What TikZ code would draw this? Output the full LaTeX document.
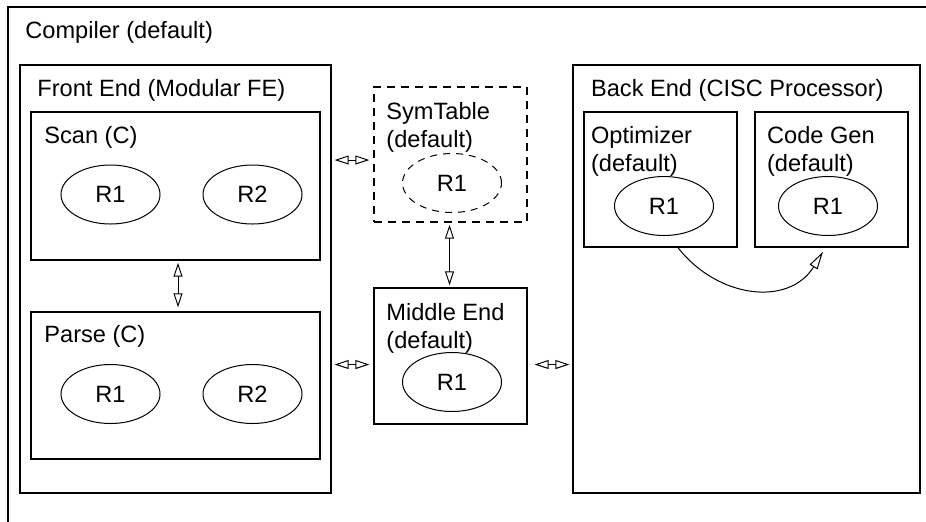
\documentclass[tikz,border=0pt]{standalone}
\usepackage{fontspec}
\setmainfont{Liberation Sans}
\usetikzlibrary{shapes.geometric,fit,arrows.meta}

\begin{document}
\begin{tikzpicture}[x=0.5pt,y=-0.5pt,
    box/.style={draw=black,line width=0.7pt,inner sep=0pt},
    dbox/.style={box,dash pattern=on 4pt off 3pt},
    reg/.style={draw=black,ellipse,line width=0.5pt,inner sep=0pt,minimum width=49.5pt,minimum height=29.5pt},
    dreg/.style={reg,dash pattern=on 3.5pt off 3pt},
    lbl/.style={anchor=north west,inner sep=0pt,align=left},
    link/.style={line width=0.5pt,{Triangle[open,length=7pt,width=4.5pt]}-{Triangle[open,length=7pt,width=4.5pt]}},
    flow/.style={line width=0.5pt,-{Triangle[open,length=9pt,width=4.5pt]}}]
    \tikzstyle{every node}+=[font=\fontsize{11.8}{14}\selectfont]
    \clip (0,0) rectangle (926,521);
    % boxes
    \node [box, fit={(8,7) (960,560)}] (comp) {};
    \node [box, fit={(20,65) (331,493)}] (fe) {};
    \node [box, fit={(31,112) (320,260)}] (scan) {};
    \node [box, fit={(31,312) (320,459)}] (parse) {};
    \node [dbox, fit={(374,87) (527,222)}] (symt) {};
    \node [box, fit={(374,288) (527,424)}] (mid) {};
    \node [box, fit={(573,65) (920,493)}] (be) {};
    \node [box, fit={(584,112) (737,247)}] (opt) {};
    \node [box, fit={(755,112) (908,247)}] (cg) {};
    % labels
    \node [lbl] (comp-t) at (25,20.7) {Compiler (default)};
    \node [lbl] (fe-t) at (37,78.5) {Front End (Modular FE)};
    \node [lbl] (scan-t) at (44,126) {Scan (C)};
    \node [lbl] (parse-t) at (44,324.7) {Parse (C)};
    \node [lbl] (symt-t) at (386,101.5) {SymTable\\(default)};
    \node [lbl] (mid-t) at (386,302.5) {Middle End\\(default)};
    \node [lbl] (be-t) at (590.7,78.5) {Back End (CISC Processor)};
    \node [lbl] (opt-t) at (590.7,125.5) {Optimizer\\(default)};
    \node [lbl] (cg-t) at (766.7,125.5) {Code Gen\\(default)};
    % regions
    \node [reg] (scan-r1) at (110.5,194.5) {R1};
    \node [reg] (scan-r2) at (252.5,194.5) {R2};
    \node [reg] (parse-r1) at (110.5,394) {R1};
    \node [reg] (parse-r2) at (252.5,394) {R2};
    \node [dreg] (symt-r1) at (452,183) {R1};
    \node [reg] (mid-r1) at (452,382) {R1};
    \node [reg] (opt-r1) at (664,206) {R1};
    \node [reg] (cg-r1) at (828,206) {R1};
    % links
    \draw [link, shorten <=1.5pt, shorten >=2pt] ([yshift=-2.75pt]symt.west -| fe.east) -- ([yshift=-2.75pt]symt.west);
    \draw [link, shorten <=1.5pt, shorten >=2pt] ([yshift=-4.25pt]mid.west -| fe.east) -- ([yshift=-4.25pt]mid.west);
    \draw [link, shorten <=3.5pt, shorten >=1.5pt] ([yshift=-4.25pt]mid.east) -- ([yshift=-4.25pt]mid.east -| be.west);
    \draw [link, shorten <=1pt, shorten >=2pt] ([xshift=1.25pt]scan.south) -- ([xshift=1.25pt]parse.north);
    \draw [link, shorten <=1pt, shorten >=1pt] ([xshift=-0.5pt]symt.south) -- ([xshift=-0.5pt]mid.north);
    \draw [flow] ([xshift=8.75pt]opt.south) .. controls +(40,51) and +(-34,55) .. ([xshift=-4.25pt,yshift=-2pt]cg.south);
\end{tikzpicture}
\end{document}
